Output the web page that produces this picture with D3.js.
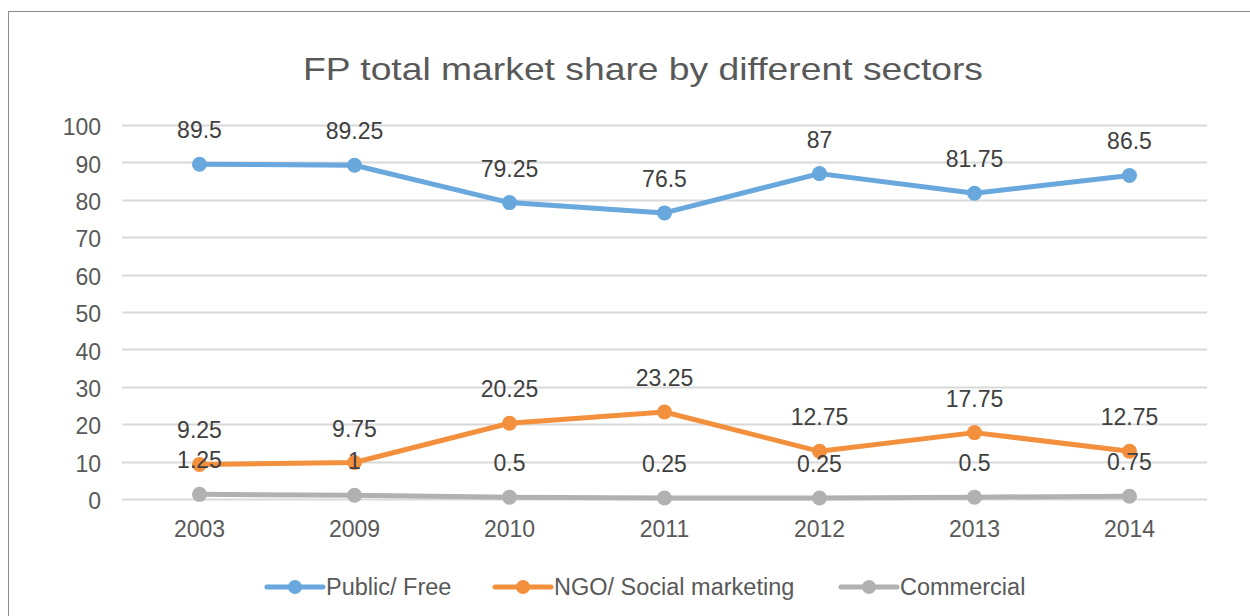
<!DOCTYPE html>
<html>
<head>
<meta charset="utf-8">
<script src="https://cdnjs.cloudflare.com/ajax/libs/d3/7.8.5/d3.min.js"></script>
<style>
  html, body { margin: 0; padding: 0; background: #fff; }
  svg { display: block; font-family: "Liberation Sans", Arial, sans-serif; }
</style>
</head>
<body>
<svg id="chart" width="1250" height="616"></svg>
<script>
// Survey years on the category axis
const years = ["2003", "2009", "2010", "2011", "2012", "2013", "2014"];

// Market share (%) per sector
const publicFree = [89.5, 89.25, 79.25, 76.5, 87, 81.75, 86.5];
const ngoSocial = [9.25, 9.75, 20.25, 23.25, 12.75, 17.75, 12.75];
const commercial = [1.25, 1, 0.5, 0.25, 0.25, 0.5, 0.75];

const seriesNames = ["Public/ Free", "NGO/ Social marketing", "Commercial"];
const seriesColors = ["#68a8dc", "#f3903d", "#b1b1b1"];
const yTicks = [0, 10, 20, 30, 40, 50, 60, 70, 80, 90, 100];

const series = [publicFree, ngoSocial, commercial].map((vals, i) => ({
  name: seriesNames[i],
  color: seriesColors[i],
  values: vals.map((v, j) => ({ year: years[j], value: v }))
}));

const svg = d3.select("#chart");
const textColor = "#595959";
const fontFamily = "Liberation Sans, Arial, sans-serif";

// Outer frame
svg.append("rect")
  .attr("x", 8.5).attr("y", 11.5)
  .attr("width", 1260).attr("height", 620)
  .attr("fill", "none").attr("stroke", "#8c8c8c").attr("stroke-width", 1);

// Title
svg.append("text")
  .attr("x", 643).attr("y", 80)
  .attr("text-anchor", "middle")
  .attr("font-size", 32)
  .attr("textLength", 680)
  .attr("lengthAdjust", "spacingAndGlyphs")
  .attr("fill", textColor)
  .text("FP total market share by different sectors");

const plot = { left: 122, right: 1207, top: 125, bottom: 499 };

const x = d3.scaleBand().domain(years).range([plot.left, plot.right]);
const y = d3.scaleLinear().domain([0, 100]).range([plot.bottom, plot.top]);

// Horizontal gridlines
svg.append("g")
  .selectAll("line")
  .data(yTicks)
  .join("line")
  .attr("x1", plot.left).attr("x2", plot.right)
  .attr("y1", d => Math.round(y(d)) + 0.5).attr("y2", d => Math.round(y(d)) + 0.5)
  .attr("stroke", "#d9d9d9").attr("stroke-width", 2);

// Y axis labels
const yAxis = d3.axisLeft(y).tickValues(yTicks).tickSize(0).tickPadding(0);
svg.append("g")
  .attr("transform", "translate(101,0)")
  .call(yAxis)
  .call(g => g.select(".domain").remove())
  .call(g => g.selectAll("text")
    .attr("font-size", 23)
    .attr("fill", textColor)
    .attr("font-family", fontFamily)
    .attr("dy", "0.42em"));

// X axis labels
const xAxis = d3.axisBottom(x).tickSize(0).tickPadding(0);
svg.append("g")
  .attr("transform", `translate(0,${plot.bottom + 38})`)
  .call(xAxis)
  .call(g => g.select(".domain").remove())
  .call(g => g.selectAll("text")
    .attr("font-size", 23)
    .attr("fill", textColor)
    .attr("font-family", fontFamily)
    .attr("dy", "0"));

const cx = d => x(d.year) + x.bandwidth() / 2;
const line = d3.line().x(cx).y(d => y(d.value));

// Lines and markers
const sg = svg.append("g")
  .selectAll("g")
  .data(series)
  .join("g");

sg.append("path")
  .attr("d", d => line(d.values))
  .attr("fill", "none")
  .attr("stroke", d => d.color)
  .attr("stroke-width", 5)
  .attr("stroke-linejoin", "round")
  .attr("stroke-linecap", "round");

sg.selectAll("circle")
  .data(d => d.values.map(v => ({ ...v, color: d.color })))
  .join("circle")
  .attr("cx", cx)
  .attr("cy", d => y(d.value))
  .attr("r", 7.5)
  .attr("fill", d => d.color);

// Value labels above each point
const lg = svg.append("g");
series.forEach(s => {
  lg.selectAll(null)
    .data(s.values)
    .join("text")
    .attr("x", cx)
    .attr("y", d => y(d.value) - 26)
    .attr("text-anchor", "middle")
    .attr("font-size", 23)
    .attr("fill", "#404040")
    .text(d => d.value);
});

// Legend
const legendItems = [
  { x0: 267, tx: 326 },
  { x0: 495, tx: 554 },
  { x0: 841, tx: 900 }
];
const legY = 587;
const leg = svg.append("g")
  .selectAll("g")
  .data(series)
  .join("g");

leg.append("line")
  .attr("x1", (d, i) => legendItems[i].x0)
  .attr("x2", (d, i) => legendItems[i].x0 + 56)
  .attr("y1", legY).attr("y2", legY)
  .attr("stroke", d => d.color)
  .attr("stroke-width", 5)
  .attr("stroke-linecap", "round");

leg.append("circle")
  .attr("cx", (d, i) => legendItems[i].x0 + 28)
  .attr("cy", legY)
  .attr("r", 7)
  .attr("fill", d => d.color);

leg.append("text")
  .attr("x", (d, i) => legendItems[i].tx)
  .attr("y", legY)
  .attr("dy", "0.36em")
  .attr("font-size", 23.5)
  .attr("fill", textColor)
  .text(d => d.name);
</script>
</body>
</html>
